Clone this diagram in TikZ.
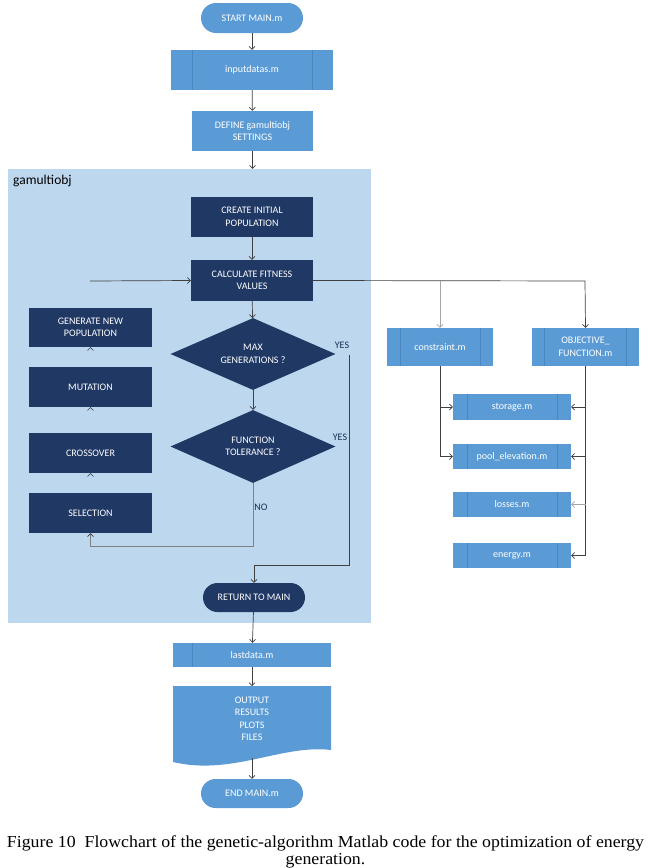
\documentclass[tikz,border=0pt]{standalone}
\usepackage{fontspec}
\setmainfont{Carlito}
\newfontfamily\capfont{Liberation Serif}
\usetikzlibrary{shapes.geometric,arrows.meta}
\definecolor{midblue}{HTML}{5B9BD5}
\definecolor{barblue}{HTML}{4A86C0}
\definecolor{navy}{HTML}{203864}
\definecolor{panelblue}{HTML}{BDD7EE}
\definecolor{lgray}{HTML}{404040}
\definecolor{pgray}{HTML}{A6A6A6}
\tikzset{
  tip/.style={-{Straight Barb[length=3pt,width=6pt]}},
  conn/.style={draw=lgray, line width=0.7pt, tip},
  lconn/.style={draw=pgray, line width=0.7pt, tip},
  hidden/.style={draw=panelblue, line width=0.5pt, -{Straight Barb[length=3pt,width=6pt,color=lgray]}},
  txt/.style={text=white, font=\fontsize{10}{12.5}\selectfont, align=center, inner sep=0pt},
  midbox/.style={txt, rectangle, fill=midblue},
  navybox/.style={txt, rectangle, fill=navy},
  term/.style={midbox, rounded corners=#1},
  subr/.style={midbox, path picture={
    \draw[barblue, line width=0.6pt] ([xshift=#1]path picture bounding box.north west) -- ([xshift=#1]path picture bounding box.south west);
    \draw[barblue, line width=0.6pt] ([xshift=-#1]path picture bounding box.north east) -- ([xshift=-#1]path picture bounding box.south east);}},
  subrl/.style={midbox, path picture={
    \draw[barblue, line width=0.6pt] ([xshift=#1]path picture bounding box.north west) -- ([xshift=#1]path picture bounding box.south west);}},
  dia/.style={txt, diamond, fill=navy, aspect=2.26},
  lbl/.style={font=\fontsize{10}{12}\selectfont, text=navy!80!black, inner sep=0pt},
  captxt/.style={anchor=base, inner sep=0pt, font=\capfont\fontsize{16.8}{18}\selectfont}
}
\begin{document}
\begin{tikzpicture}[x=1pt,y=-1pt]
\useasboundingbox (0,0) rectangle (649,868);
% panel
\node[fill=panelblue, minimum width=363pt, minimum height=454pt, inner sep=0pt] (panel) at (189.5,396) {};
\node[anchor=west, inner sep=0pt, font=\fontsize{13.5}{15}\selectfont] (ptitle) at (13,181) {gamultiobj};

% main column
\node[term=15pt, minimum width=102pt, minimum height=30pt] (start) at (252,18) {START MAIN.m};
\node[subr=21pt, minimum width=162pt, minimum height=40pt] (input) at (252,70) {inputdatas.m};
\node[midbox, minimum width=121pt, minimum height=40pt] (define) at (252.5,131) {DEFINE gamultiobj\\SETTINGS};
\node[navybox, minimum width=122pt, minimum height=40pt] (create) at (252,217) {CREATE INITIAL\\POPULATION};
\node[navybox, minimum width=122pt, minimum height=41pt] (calc) at (252,280.5) {CALCULATE FITNESS\\VALUES};
\node[dia, minimum width=165pt, minimum height=72pt] (maxgen) at (253,354) {MAX\\GENERATIONS ?};
\node[dia, minimum width=165pt, minimum height=73pt] (tol) at (253,446.5) {FUNCTION\\TOLERANCE ?};
\node[term=14.5pt, navybox, minimum width=102pt, minimum height=29pt] (ret) at (254,597.5) {RETURN TO MAIN};

% left column
\node[navybox, minimum width=123pt, minimum height=39pt] (gen) at (90.5,327.5) {GENERATE NEW\\POPULATION};
\node[navybox, minimum width=123pt, minimum height=40pt] (mut) at (90.5,387) {MUTATION};
\node[navybox, minimum width=123pt, minimum height=40pt] (cross) at (90.5,453) {CROSSOVER};
\node[navybox, minimum width=123pt, minimum height=40pt] (sel) at (90.5,513) {SELECTION};

% below panel
\node[subrl=19pt, minimum width=158pt, minimum height=24pt] (last) at (252,655) {lastdata.m};
\fill[midblue] (173,686) -- (331,686) -- (331,750) .. controls (282,744) and (232,776) .. (173,762) -- cycle;
\node[txt, inner sep=0pt] (output) at (252,719) {OUTPUT\\RESULTS\\PLOTS\\FILES};
\coordinate (outtop) at (252,686);
\coordinate (outbot) at (252,758);
\node[term=14.5pt, minimum width=102pt, minimum height=29pt] (end) at (252,793.5) {END MAIN.m};

% right column
\node[subr=13pt, minimum width=106pt, minimum height=38pt] (constr) at (440,347) {constraint.m};
\node[subr=12.5pt, minimum width=107pt, minimum height=38pt] (obj) at (585.5,347) {OBJECTIVE\_\\FUNCTION.m};
\node[subr=14pt, minimum width=118pt, minimum height=26pt] (stor) at (512,407) {storage.m};
\node[subr=14pt, minimum width=118pt, minimum height=25pt] (pool) at (512,456.5) {pool\_elevation.m};
\node[subr=14pt, minimum width=118pt, minimum height=25pt] (loss) at (512,504.5) {losses.m};
\node[subr=14pt, minimum width=118pt, minimum height=25pt] (ener) at (512,555.5) {energy.m};

% labels
\node[lbl] (yes1) at (342,345) {YES};
\node[lbl] (yes2) at (340,437) {YES};
\node[lbl] (no) at (261,507) {NO};

% coordinates
\coordinate (entry) at (90,281);
\coordinate (rc) at (585,281);
\coordinate (cc) at (440,281);
\coordinate (ytop) at (349,355);
\coordinate (ybot) at (349,565);
\coordinate (nob) at (253,546);

% connectors
\draw[conn] (start) -- (input);
\draw[conn] (input) -- (define);
\draw[conn] (define.south) -- (define.south |- panel.north);
\draw[conn] (create) -- (calc);
\draw[conn] (entry) -- (calc.west);
\draw[conn] (calc.east) -- (rc) -- (obj.north);
\draw[lconn] (cc) -- (constr.north);
\draw[conn] (calc) -- (maxgen);
\draw[conn] (maxgen) -- (tol);
\draw[conn] (ytop) -- (ybot) -- (ybot -| ret.north) -- (ret.north);
\draw[draw=gray, line width=0.7pt, -{Straight Barb[length=3pt,width=6pt,color=lgray]}] (tol.south) -- (nob) -- (nob -| sel.south) -- (sel.south);
\draw[hidden] (sel) -- (cross);
\draw[hidden] (cross) -- (mut);
\draw[hidden] (mut) -- (gen);
\draw[conn] (ret) -- (last);
\draw[conn] (last.south) -- (outtop);
\draw[conn] (outbot) -- (end);
\draw[conn] (constr.south) -- (constr.south |- pool.west) -- (pool.west);
\draw[conn] (constr.south |- stor.west) -- (stor.west);
\draw[conn] (obj.south) -- (obj.south |- ener.east) -- (ener.east);
\draw[conn] (obj.south |- stor.east) -- (stor.east);
\draw[conn] (obj.south |- pool.east) -- (pool.east);
\draw[lconn] (obj.south |- loss.east) -- (loss.east);

% caption
\node[captxt] (cap1) at (325.5,847) {\scalebox{1.06}[1]{Figure 10\ \ Flowchart of the genetic-algorithm Matlab code for the optimization of energy}};
\node[captxt] (cap2) at (325.5,864.5) {\scalebox{1.06}[1]{generation.}};
\end{tikzpicture}
\end{document}
